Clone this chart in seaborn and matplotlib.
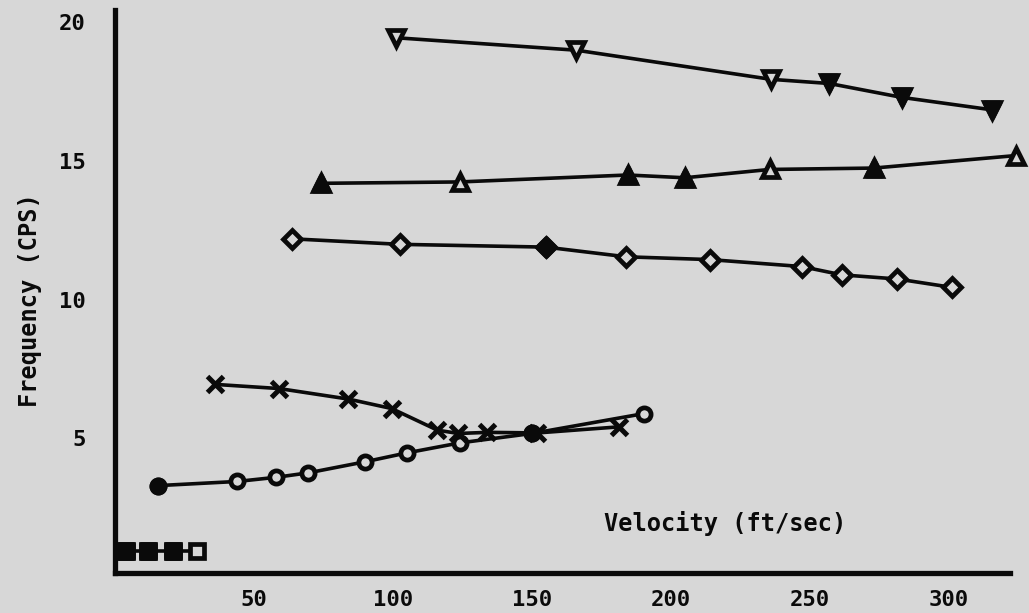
import matplotlib
matplotlib.use("Agg")
import matplotlib.pyplot as plt
import seaborn as sns

sns.set_style("white")
plt.rcParams['font.family'] = ['DejaVu Sans Mono', 'Liberation Mono']
plt.rcParams['font.weight'] = 'bold'

# ---- data ----
down_tri_vel = [101, 166, 236, 257, 283, 315.5]
down_tri_freq = [19.45, 19.0, 17.95, 17.8, 17.3, 16.85]

up_tri_vel = [74, 124, 184.5, 205, 235.5, 273, 324]
up_tri_freq = [14.2, 14.25, 14.5, 14.4, 14.7, 14.75, 15.2]

diamond_vel = [63.5, 102.5, 155, 184, 214, 247, 261.5, 281.5, 301]
diamond_freq = [12.2, 12.0, 11.9, 11.55, 11.45, 11.2, 10.9, 10.75, 10.45]

cross_vel = [36, 59, 84, 99.5, 116, 123.5, 134, 152, 181.5]
cross_freq = [6.95, 6.8, 6.42, 6.08, 5.3, 5.18, 5.22, 5.2, 5.42]

circle_vel = [15.5, 44, 58, 69.5, 90, 105, 124, 150, 190.5]
circle_freq = [3.3, 3.45, 3.6, 3.76, 4.16, 4.48, 4.84, 5.18, 5.9]

square_vel = [4, 12, 21, 29.5]
square_freq = [0.95, 0.95, 0.95, 0.95]

# points whose marker is inked solid in the scan
down_tri_solid = [3, 4, 5]
up_tri_solid = [0, 2, 3, 5]
diamond_solid = [2]
circle_solid = [0, 7]
square_solid = [0, 1, 2]

x_ticks = [50, 100, 150, 200, 250, 300]
y_ticks = [5, 10, 15, 20]

BG = '#d7d7d7'
INK = '#0a0a0a'

fig = plt.figure(figsize=(10.29, 6.13), dpi=100, facecolor=BG)
ax = fig.add_axes([0.1118, 0.0653, 0.8697, 0.9184])
ax.set_facecolor(BG)

series = [
    (down_tri_vel, down_tri_freq, 'v', 11, down_tri_solid),
    (up_tri_vel, up_tri_freq, '^', 11, up_tri_solid),
    (diamond_vel, diamond_freq, 'D', 9, diamond_solid),
    (circle_vel, circle_freq, 'o', 9.5, circle_solid),
    (square_vel, square_freq, 's', 9.5, square_solid),
]

for xs, ys, mk, ms, solid in series:
    sns.lineplot(x=xs, y=ys, ax=ax, color=INK, lw=2.6, marker=mk, ms=ms,
                 mfc=BG, mec=INK, mew=3.4, sort=False, estimator=None,
                 clip_on=False, zorder=3)
    if solid:
        sns.scatterplot(x=[xs[i] for i in solid], y=[ys[i] for i in solid],
                        ax=ax, marker=mk, s=ms ** 2, color=INK, edgecolor=INK,
                        linewidth=3.4, clip_on=False, zorder=4)

sns.lineplot(x=cross_vel, y=cross_freq, ax=ax, color=INK, lw=2.6, marker='x',
             ms=11, mew=3.6, mec=INK, sort=False, estimator=None, zorder=3)

ax.set_xlim(0, 322)
ax.set_ylim(0.15, 20.45)
ax.set_xticks(x_ticks)
ax.set_yticks(y_ticks)
ax.set_xticklabels([str(t) for t in x_ticks])
ax.set_yticklabels([str(t) for t in y_ticks])

for side in ['top', 'right']:
    ax.spines[side].set_visible(False)
for side in ['left', 'bottom']:
    ax.spines[side].set_linewidth(3.8)
    ax.spines[side].set_color(INK)

ax.tick_params(axis='x', direction='in', length=7, width=2.4, color=INK,
               pad=12, labelsize=16, labelcolor=INK)
ax.tick_params(axis='y', direction='out', length=7, width=2.4, color=INK,
               pad=14, labelsize=16, labelcolor=INK)

ax.set_ylabel('Frequency (CPS)', fontsize=17, fontweight='bold', color=INK)
ax.yaxis.set_label_coords(-0.0955, 0.485)
ax.yaxis.label.set_va('center')

ax.set_xlabel('Velocity (ft/sec)', fontsize=17, fontweight='bold', color=INK)
ax.xaxis.set_label_coords(0.6816, 0.088)
ax.xaxis.label.set_va('center')

plt.savefig('out.png', dpi=100, facecolor=BG)
